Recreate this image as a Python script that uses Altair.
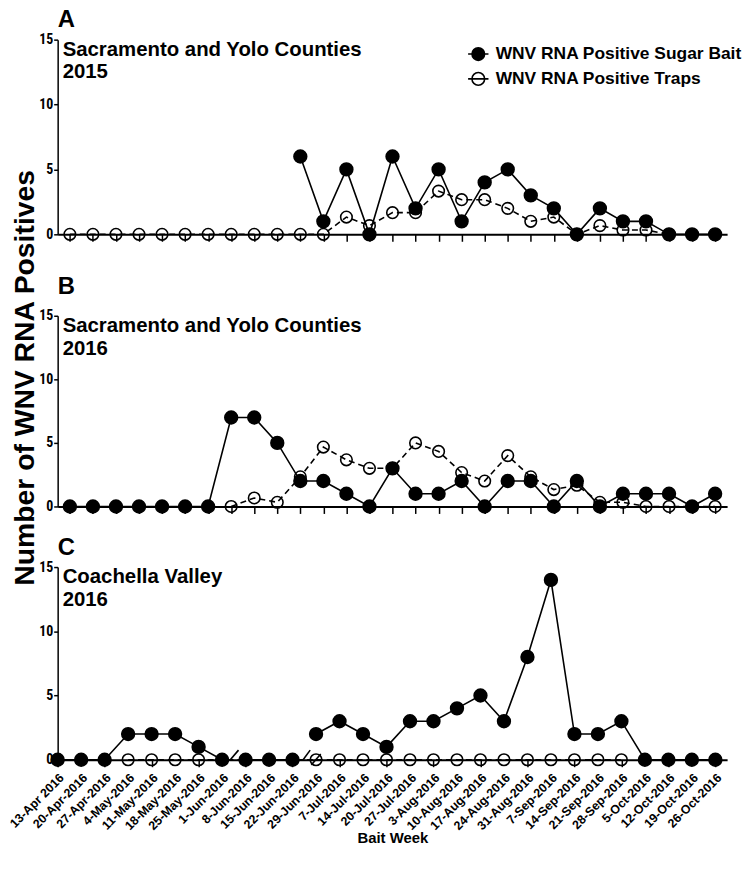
import altair as alt
import pandas as pd

# ---------------- data ----------------
weeks = ["13-Apr 2016", "20-Apr-2016", "27-Apr-2016", "4-May-2016", "11-May-2016",
         "18-May-2016", "25-May-2016", "1-Jun-2016", "8-Jun-2016", "15-Jun-2016",
         "22-Jun-2016", "29-Jun-2016", "7-Jul-2016", "14-Jul-2016", "20-Jul-2016",
         "27-Jul-2016", "3-Aug-2016", "10-Aug-2016", "17-Aug-2016", "24-Aug-2016",
         "31-Aug-2016", "7-Sep-2016", "14-Sep-2016", "21-Sep-2016", "28-Sep-2016",
         "5-Oct-2016", "12-Oct-2016", "19-Oct-2016", "26-Oct-2016"]

N = None
a_bait = [N, N, N, N, N, N, N, N, N, N, 6, 1, 5, 0, 6, 2, 5, 1, 4, 5, 3, 2, 0, 2, 1, 1, 0, 0, 0]
a_trap = [0, 0, 0, 0, 0, 0, 0, 0, 0, 0, 0, 0, 1.33, 0.67, 1.67, 1.67, 3.33, 2.67, 2.67, 2.0,
          1.0, 1.33, 0, 0.67, 0.33, 0.33, 0, N, N]

b_bait = [0, 0, 0, 0, 0, 0, 0, 7, 7, 5, 2, 2, 1, 0, 3, 1, 1, 2, 0, 2, 2, 0, 2, 0, 1, 1, 1, 0, 1]
b_trap = [N, N, N, N, N, N, N, 0, 0.67, 0.33, 2.33, 4.67, 3.67, 3.0, 3.0, 5.0, 4.33, 2.67,
          2.0, 4.0, 2.33, 1.33, 1.67, 0.33, 0.33, 0, 0, 0, 0]

c_bait = [0, 0, 0, 2, 2, 2, 1, 0, 0, 0, 0, 2, 3, 2, 1, 3, 3, 4, 5, 3, 8, 14, 2, 2, 3, 0, 0, 0, 0]
c_bait_segment = [0] * 8 + [1] * 3 + [2] * 18
c_trap = [N, N, N, 0, 0, 0, 0, N, N, N, N, 0, 0, 0, 0, 0, 0, 0, 0, 0, 0, 0, 0, 0, 0, N, N, N, N]

# small "//" break marks drawn on the Coachella line
c_break_x0 = [7.35, 10.45, 10.8]
c_break_x1 = [7.7, 10.75, 11.2]
c_break_y0 = [0.0, 0.0, -0.4]
c_break_y1 = [0.75, 0.75, 0.45]

BAIT = "WNV RNA Positive Sugar Bait"
TRAP = "WNV RNA Positive Traps"

NARROW = "Liberation Sans Narrow, Roboto Condensed, Liberation Sans, sans-serif"
SANS = "Liberation Sans, Arial, sans-serif"


def make_df(bait, trap, seg=None):
    rows = []
    for i in range(len(weeks)):
        if trap[i] is not None:
            rows.append({"idx": i, "value": trap[i], "series": TRAP, "seg": 0})
        if bait[i] is not None:
            rows.append({"idx": i, "value": bait[i], "series": BAIT,
                         "seg": seg[i] if seg else 0})
    return pd.DataFrame(rows)


W = 674


def panel(df, letter, letter_y, sub_lines, height, xdom,
          bottom=False, legend=False, ytitle=False, breaks=None):
    xaxis = alt.Axis(values=list(range(len(weeks))), labels=False,
                     title="Bait Week" if bottom else None, titleFont=SANS,
                     titleFontSize=15, titleFontWeight="bold", titlePadding=64,
                     titleColor="black",
                     tickSize=7, tickWidth=1.5, tickColor="black",
                     domainWidth=2, domainColor="black", grid=False)
    yaxis_kw = dict(values=[0, 5, 10, 15], tickSize=4, tickWidth=1.5, tickColor="black",
                    domainWidth=1.5, domainColor="black", grid=False,
                    labelFont=NARROW, labelFontSize=14, labelFontWeight="bold",
                    labelColor="black", labelPadding=1)
    if ytitle:
        yaxis = alt.Axis(title="Number of WNV RNA Positives", titleFont=SANS,
                         titleFontSize=28.5, titleFontWeight="bold", titleColor="black",
                         titleAngle=270, titleAlign="center", titleBaseline="middle",
                         titleX=-33, titleY=62, **yaxis_kw)
    else:
        yaxis = alt.Axis(title=None, **yaxis_kw)

    xscale = alt.Scale(domain=xdom, nice=False, zero=False)
    yscale = alt.Scale(domain=[0, 15], nice=False)
    x = alt.X("idx:Q", scale=xscale, axis=xaxis)
    y = alt.Y("value:Q", scale=yscale, axis=yaxis)

    base = alt.Chart(df)
    trap_lines = base.mark_line(color="black", strokeWidth=1.6, strokeDash=[6, 4]).encode(
        x=x, y=y).transform_filter(alt.datum.series == TRAP)
    bait_lines = base.mark_line(color="black", strokeWidth=1.6).encode(
        x=x, y=y, detail="seg:N").transform_filter(alt.datum.series == BAIT)

    if legend:
        leg = alt.Legend(orient="none", legendX=412, legendY=3, title=None,
                         symbolType="M-1,0H1M0.62,0A0.62,0.62,0,1,1,-0.62,0A0.62,0.62,0,1,1,0.62,0Z",
                         symbolSize=420, symbolStrokeColor="black", symbolStrokeWidth=1.6,
                         labelFont=SANS, labelFontSize=17.5, labelFontWeight="bold",
                         labelColor="black", rowPadding=3, labelOffset=6, padding=0,
                         labelLimit=400)
    else:
        leg = None
    fill = alt.Fill("series:N", scale=alt.Scale(domain=[BAIT, TRAP], range=["black", "transparent"]),
                    legend=leg)
    trap_pts = base.mark_point(shape="circle", stroke="black", strokeWidth=1.6, opacity=1,
                               size=135).encode(x=x, y=y, fill=fill).transform_filter(
        alt.datum.series == TRAP)
    bait_pts = base.mark_point(shape="circle", stroke="black", strokeWidth=1.6, opacity=1,
                               size=165).encode(x=x, y=y, fill=fill).transform_filter(
        alt.datum.series == BAIT)

    one = alt.Data(values=[{}])
    sub = alt.Chart(one).mark_text(
        text=sub_lines, align="left", baseline="alphabetic", font=SANS, fontSize=20.5,
        fontWeight="bold", lineHeight=23, color="black"
    ).encode(x=alt.value(5), y=alt.value(16))
    let = alt.Chart(one).mark_text(
        text=letter, align="left", baseline="alphabetic", font=SANS, fontSize=24,
        fontWeight="bold", color="black"
    ).encode(x=alt.value(0), y=alt.value(letter_y))

    layers = [trap_lines, bait_lines, trap_pts, bait_pts, sub, let]
    if breaks is not None:
        bdf = pd.DataFrame({"x0": breaks[0], "x1": breaks[1], "y0": breaks[2], "y1": breaks[3]})
        layers.append(alt.Chart(bdf).mark_rule(color="black", strokeWidth=1.6).encode(
            x=alt.X("x0:Q", scale=xscale), x2="x1:Q",
            y=alt.Y("y0:Q", scale=yscale), y2="y1:Q"))
    if bottom:
        ldf = pd.DataFrame({"idx": list(range(len(weeks))), "week": weeks})
        layers.append(alt.Chart(ldf).mark_text(
            angle=315, align="right", baseline="top", font=SANS, fontSize=12.5,
            fontWeight="bold", color="black"
        ).encode(x=alt.X("idx:Q", scale=xscale), y=alt.value(height + 12), text="week:N"))

    return alt.layer(*layers).properties(width=W, height=height)


def spacer(h):
    return alt.Chart(alt.Data(values=[{}])).mark_point(opacity=0).encode(
        x=alt.value(0), y=alt.value(0)).properties(width=W, height=h)


pa = panel(make_df(a_bait, a_trap), "A", -12.5, ["Sacramento and Yolo Counties", "2015"],
           196, [-0.53, 28.52], legend=True)
pb = panel(make_df(b_bait, b_trap), "B", -21.5, ["Sacramento and Yolo Counties", "2016"],
           192, [-0.53, 28.52], ytitle=True)
pc = panel(make_df(c_bait, c_trap, c_bait_segment), "C", -12.5, ["Coachella Valley", "2016"],
           194, [0, 28.5], bottom=True,
           breaks=[c_break_x0, c_break_x1, c_break_y0, c_break_y1])

chart = alt.vconcat(pa, spacer(81.7), pb, spacer(60.6), pc, spacing=0, bounds="flush").properties(
    padding={"left": -1, "top": -3, "right": 0, "bottom": 0}
).configure_view(stroke=None).resolve_scale(fill="independent").resolve_legend(fill="independent")

chart.save("out.html", embed_options={"renderer": "svg", "actions": False})
